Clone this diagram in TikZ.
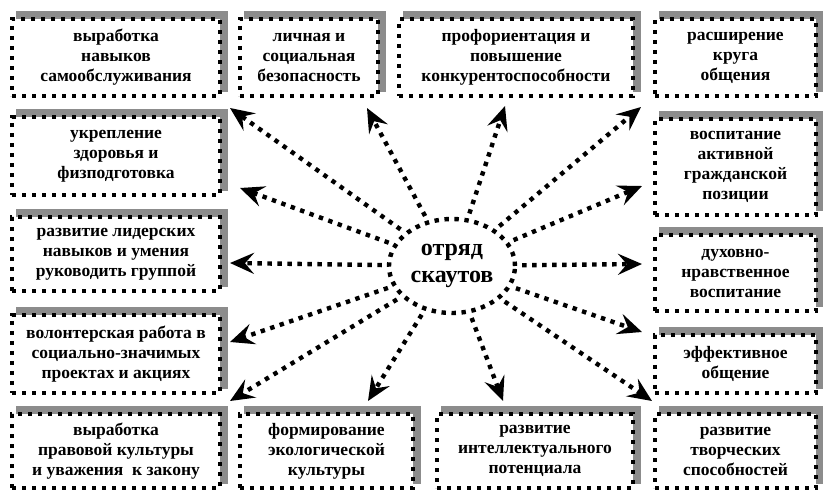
\documentclass[tikz,border=0pt]{standalone}
\usepackage{fontspec}
\setmainfont{Liberation Serif}
\usepackage{tikz}
\usetikzlibrary{shapes,arrows.meta,positioning,backgrounds}
\tikzset{
  every node/.style={
    font=\bfseries\fontsize{17.5}{20}\selectfont
  },
  aim/.style n args={2}{
    shape=rectangle,
    minimum width=#1,
    minimum height=#2,
    inner sep=1pt,
    align=center,
    fill=white,
    preaction={draw=white, line width=4.4pt},
    draw=black,
    line width=4.4pt,
    dash pattern=on 4.4pt off 5.6pt
  },
  squad/.style={
    shape=ellipse,
    minimum width=126pt,
    minimum height=94pt,
    inner sep=0pt,
    align=center,
    fill=white,
    draw=black,
    line width=4.4pt,
    dash pattern=on 4.4pt off 5.6pt,
    font=\bfseries\fontsize{24}{27}\selectfont
  },
  link/.style={
    draw=black,
    line width=4.4pt,
    dash pattern=on 4.4pt off 5.6pt,
    shorten <=5pt,
    -{Stealth[length=24pt,width=21pt,inset=9pt]}
  },
  backdrop/.style={
    fill=gray!90
  }
}

\begin{document}
\begin{tikzpicture}[x=1pt,y=-1pt]
  \useasboundingbox (0,0) rectangle (823,492);
  % top row
  \node [aim={208pt}{77pt}] (selfcare) at (116,57.5) {выработка\\навыков\\самообслуживания};
  \node [aim={138pt}{77pt}] (safety) at (309,57.5) {личная и\\социальная\\безопасность};
  \node [aim={234pt}{77pt}] (career) at (516,57.5) {профориентация и\\повышение\\конкурентоспособности};
  \node [aim={161pt}{77pt}] (contacts) at (735.5,57.5) {расширение\\круга\\общения};
  % left column
  \node [aim={208pt}{78pt}] (health) at (116,156) {укрепление\\здоровья и\\физподготовка};
  \node [aim={208pt}{74pt}] (leader) at (116,254) {развитие лидерских\\навыков и умения\\руководить группой};
  \node [aim={208pt}{78pt}] (volunteer) at (116,354) {волонтерская работа в\\социально-значимых\\проектах и акциях};
  % right column
  \node [aim={161pt}{96pt}] (citizen) at (735.5,167) {воспитание\\активной\\гражданской\\позиции};
  \node [aim={161pt}{76pt}] (moral) at (735.5,273) {духовно-\\нравственное\\воспитание};
  \node [aim={161pt}{58pt}] (talk) at (735.5,364) {эффективное\\общение};
  % bottom row
  \node [aim={208pt}{74pt}] (law) at (116,451) {выработка\\правовой культуры\\и уважения~ к закону};
  \node [aim={173pt}{74pt}] (nature) at (326.5,451) {формирование\\экологической\\культуры};
  \node [aim={196pt}{74pt}] (mind) at (535,451) {развитие\\интеллектуального\\потенциала};
  \node [aim={161pt}{74pt}] (art) at (735.5,451) {развитие\\творческих\\способностей};

  \node [squad] (scouts) at (452,266) {отряд\\скаутов};

  \begin{scope}[on background layer]
    \foreach \b in {selfcare,safety,career,contacts,health,leader,volunteer,
                    citizen,moral,talk,law,nature,mind,art}
      \fill [backdrop] ([shift={(6,-6)}]\b.south west) rectangle ([shift={(6,-6)}]\b.north east);
  \end{scope}

  \coordinate (to selfcare) at (230,108);
  \coordinate (to safety) at (367,108);
  \coordinate (to career) at (505,106);
  \coordinate (to contacts) at (641,107);
  \coordinate (to health) at (240,188);
  \coordinate (to citizen) at (642,186);
  \coordinate (to leader) at (230,263);
  \coordinate (to moral) at (642,264);
  \coordinate (to volunteer) at (230,342);
  \coordinate (to talk) at (642,332);
  \coordinate (to law) at (230,401);
  \coordinate (to nature) at (368,401);
  \coordinate (to mind) at (503,401);
  \coordinate (to art) at (652,401);

  \foreach \t in {selfcare,safety,career,contacts,health,citizen,leader,
                  moral,volunteer,talk,law,nature,mind,art}
    \draw [link] (scouts) -- (to \t);
\end{tikzpicture}
\end{document}
